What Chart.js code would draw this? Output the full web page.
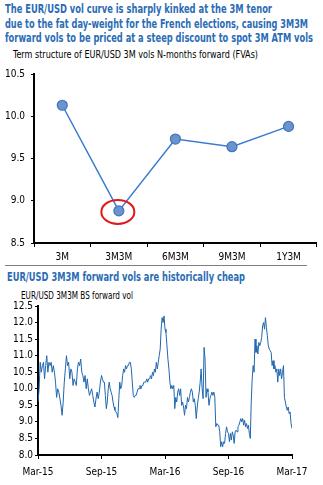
<!DOCTYPE html>
<html><head><meta charset="utf-8">
<script src="https://cdn.jsdelivr.net/npm/chart.js@4.4.0/dist/chart.umd.min.js"></script>
<style>
html,body{margin:0;padding:0;background:#fff;width:323px;height:485px;overflow:hidden;position:relative;font-family:'Liberation Sans Narrow','Arial Narrow','DejaVu Sans Condensed','Liberation Sans',Arial,sans-serif}
.t{position:absolute;white-space:nowrap;transform-origin:0 0;line-height:1}
.h{color:#2B6CB5;font-weight:bold;font-size:12px}
.s{color:#000;font-size:10.5px}
#c1w{position:absolute;left:0;top:62px;width:323px;height:203px}
#c2w{position:absolute;left:0;top:298px;width:323px;height:187px}
#sep{position:absolute;left:5px;top:265px;width:302px;height:1px;background:#7f7f7f}
</style></head><body>
<div class="t h" style="left:5px;top:3.4px" data-w="267">The EUR/USD vol curve is sharply kinked at the 3M tenor</div>
<div class="t h" style="left:5px;top:18.4px" data-w="303">due to the fat day-weight for the French elections, causing 3M3M</div>
<div class="t h" style="left:5px;top:31.7px" data-w="308">forward vols to be priced at a steep discount to spot 3M ATM vols</div>
<div class="t s" style="left:13px;top:48.6px" data-w="245">Term structure of EUR/USD 3M vols N-months forward (FVAs)</div>
<div id="c1w"><canvas id="c1"></canvas></div>
<div id="sep"></div>
<div class="t h" style="left:6.5px;top:271px" data-w="238">EUR/USD 3M3M forward vols are historically cheap</div>
<div class="t s" style="left:20.5px;top:289.6px" data-w="112">EUR/USD 3M3M BS forward vol</div>
<div id="c2w"><canvas id="c2"></canvas></div>
<script>
// ---- Chart 1 data ----
const tenors = ['3M','3M3M','6M3M','9M3M','1Y3M'];
const fvaVols = [10.13, 8.88, 9.73, 9.64, 9.88];
const yTicks1 = [8.5, 9.0, 9.5, 10.0, 10.5];

// ---- Chart 2 data (3M3M BS forward vol), one array per half-year ----
const dateTicks = ['Mar-15','Sep-15','Mar-16','Sep-16','Mar-17'];
const volMar15Sep15 = [9.6,10.0,10.8,10.5,10.7,10.8,10.3,10.7,11.0,10.5,10.8,10.7,10.8,10.5,10.7,10.5,10.2,9.74,10.0,9.9,9.7,9.5,9.2,9.6,10.2,10.6,11.0,10.7,10.8,10.3,10.6,10.5,10.1,10.3,10.2,10.1,10.6,10.8,10.7,10.9,10.5,10.4,10.2,10.4,10.0,10.3,10.0,9.8,9.9,10.0,9.8,9.6,9.45,9.7,9.9,9.7,9.9,10.2];
const volSep15Mar16 = [10.4,10.3,10.2,10.2,9.8,9.4,9.6,10.0,10.2,10.0,9.9,9.8,9.6,9.45,9.35,9.3,9.25,9.13,9.7,10.2,10.0,10.1,10.4,10.6,10.5,10.7,10.6,10.7,10.7,10.8,10.8,10.6,10.2,9.8,9.74,9.8,9.8,9.9,10.0,10.0,10.1,10.0,10.1,10.1,10.2,10.2,10.2,10.3,10.2,10.3,10.3,10.4,10.3,10.5,10.4,10.6,10.5,10.8,10.6,10.8,11.0,11.2,11.8,12.15,12.0,12.2];
const volMar16Sep16 = [11.8,11.7,11.3,10.9,10.6,10.2,10.0,10.1,10.0,10.1,9.4,9.74,9.6,9.9,10.0,9.8,10.0,9.5,9.6,9.45,9.2,9.5,9.4,9.74,9.6,9.74,9.9,10.0,9.9,9.6,9.7,9.5,9.1,9.45,9.7,9.9,10.2,10.6,10.0,9.7,11.25,10.9,9.74,10.0,9.9,9.5,9.7,9.8,9.9,9.8,9.9,9.74,8.85,8.95,8.9,8.9,8.7,8.25,8.4,8.25,8.4,8.35,8.65,8.85,8.7];
const volSep16Mar17 = [8.65,8.4,8.65,8.45,8.7,8.6,8.35,8.7,8.75,8.7,8.85,8.9,9.0,9.1,9.0,9.1,8.9,9.05,8.85,8.95,8.8,8.9,8.65,8.5,9.6,10.3,10.7,10.5,11.5,11.1,11.3,11.05,11.4,11.3,11.4,11.55,11.9,12.0,11.8,12.15,11.85,11.6,11.3,11.2,11.15,11.1,10.7,10.85,10.6,10.7,10.5,10.6,10.2,10.6,10.4,10.6,10.3,10.5,10.7,9.74,9.6,9.45,9.35,9.45,9.25,9.3,8.95,8.8];
const yTicks2 = [8.0,8.5,9.0,9.5,10.0,10.5,11.0,11.5,12.0,12.5];

// fit title lines to their widths
document.querySelectorAll('.t[data-w]').forEach(el=>{
  const w = el.getBoundingClientRect().width;
  const target = parseFloat(el.dataset.w);
  el.style.transform = 'scaleX(' + (target / w) + ')';
});

const FONT = "'Liberation Sans Narrow','Arial Narrow','DejaVu Sans Condensed','Liberation Sans',Arial,sans-serif";
Chart.defaults.font.family = FONT;
Chart.defaults.color = '#000';

const ellipsePlugin = {
  id: 'ellipse',
  afterDatasetsDraw(chart) {
    const p = chart.getDatasetMeta(0).data[1];
    const ctx = chart.ctx;
    ctx.save();
    ctx.strokeStyle = '#E5161D';
    ctx.lineWidth = 2;
    ctx.beginPath();
    ctx.ellipse(p.x - 1, p.y + 1, 16.5, 12, 0, 0, Math.PI * 2);
    ctx.stroke();
    ctx.restore();
  }
};

new Chart(document.getElementById('c1'), {
  type: 'line',
  data: { labels: tenors, datasets: [{
    data: fvaVols,
    borderColor: '#3A7BD0', borderWidth: 1.5,
    pointRadius: 5, pointBackgroundColor: '#6B93CC', pointBorderColor: '#3F74C0', pointBorderWidth: 1.2,
    tension: 0
  }]},
  options: {
    responsive: true, maintainAspectRatio: false, animation: false, devicePixelRatio: 1,
    layout: { padding: { top: 8, right: 5, left: 0, bottom: 0 } },
    plugins: { legend: { display: false }, tooltip: { enabled: false } },
    scales: {
      x: {
        type: 'category', offset: true,
        grid: { offset: true, drawOnChartArea: false, drawTicks: true, tickLength: 4, color: '#000', lineWidth: 1 },
        border: { display: true, color: '#000', width: 2 },
        ticks: { font: { size: 10 }, padding: 4, maxRotation: 0, color: '#000' },
        afterFit(s) { s.height = 22; }
      },
      y: {
        min: 8.5, max: 10.5,
        afterBuildTicks(s) { s.ticks = yTicks1.map(v => ({ value: v })); },
        grid: { drawOnChartArea: false, drawTicks: true, tickLength: 3, color: '#000', lineWidth: 1 },
        border: { display: true, color: '#000', width: 2 },
        ticks: { font: { size: 10 }, padding: 6, color: '#000', callback: v => v.toFixed(1) },
        afterFit(s) { s.width = 34; }
      }
    }
  },
  plugins: [ellipsePlugin]
});

// build series points from the half-year arrays
const segs = [volMar15Sep15, volSep15Mar16, volMar16Sep16, volSep16Mar17];
const pts = [];
segs.forEach((arr, k) => {
  const last = k === segs.length - 1;
  arr.forEach((v, j) => {
    pts.push({ x: 6 * k + 6 * j / (last ? arr.length - 1 : arr.length), y: v });
  });
});

new Chart(document.getElementById('c2'), {
  type: 'line',
  data: { datasets: [{
    data: pts, borderColor: '#2067AE', borderWidth: 1, pointRadius: 0, tension: 0
  }]},
  options: {
    responsive: true, maintainAspectRatio: false, animation: false, devicePixelRatio: 1,
    layout: { padding: { top: 5, right: 31, left: 0, bottom: 5 } },
    plugins: { legend: { display: false }, tooltip: { enabled: false } },
    scales: {
      x: {
        type: 'linear', min: 0, max: 24,
        afterBuildTicks(s) { s.ticks = dateTicks.map((_, i) => ({ value: i * 6 })); },
        grid: { drawOnChartArea: false, drawTicks: true, tickLength: 4, color: '#000', lineWidth: 1 },
        border: { display: true, color: '#000', width: 2 },
        ticks: { font: { size: 10 }, padding: 7, maxRotation: 0, autoSkip: false, color: '#000',
          callback: v => dateTicks[Math.round(v / 6)] },
        afterFit(s) { s.height = 25; }
      },
      y: {
        min: 8, max: 12.5,
        afterBuildTicks(s) { s.ticks = yTicks2.map(v => ({ value: v })); },
        grid: { drawOnChartArea: false, drawTicks: true, tickLength: 3, color: '#000', lineWidth: 1 },
        border: { display: true, color: '#000', width: 2 },
        ticks: { font: { size: 10 }, padding: 2, color: '#000', callback: v => v.toFixed(1) },
        afterFit(s) { s.width = 38; }
      }
    }
  }
});
</script>
</body></html>
